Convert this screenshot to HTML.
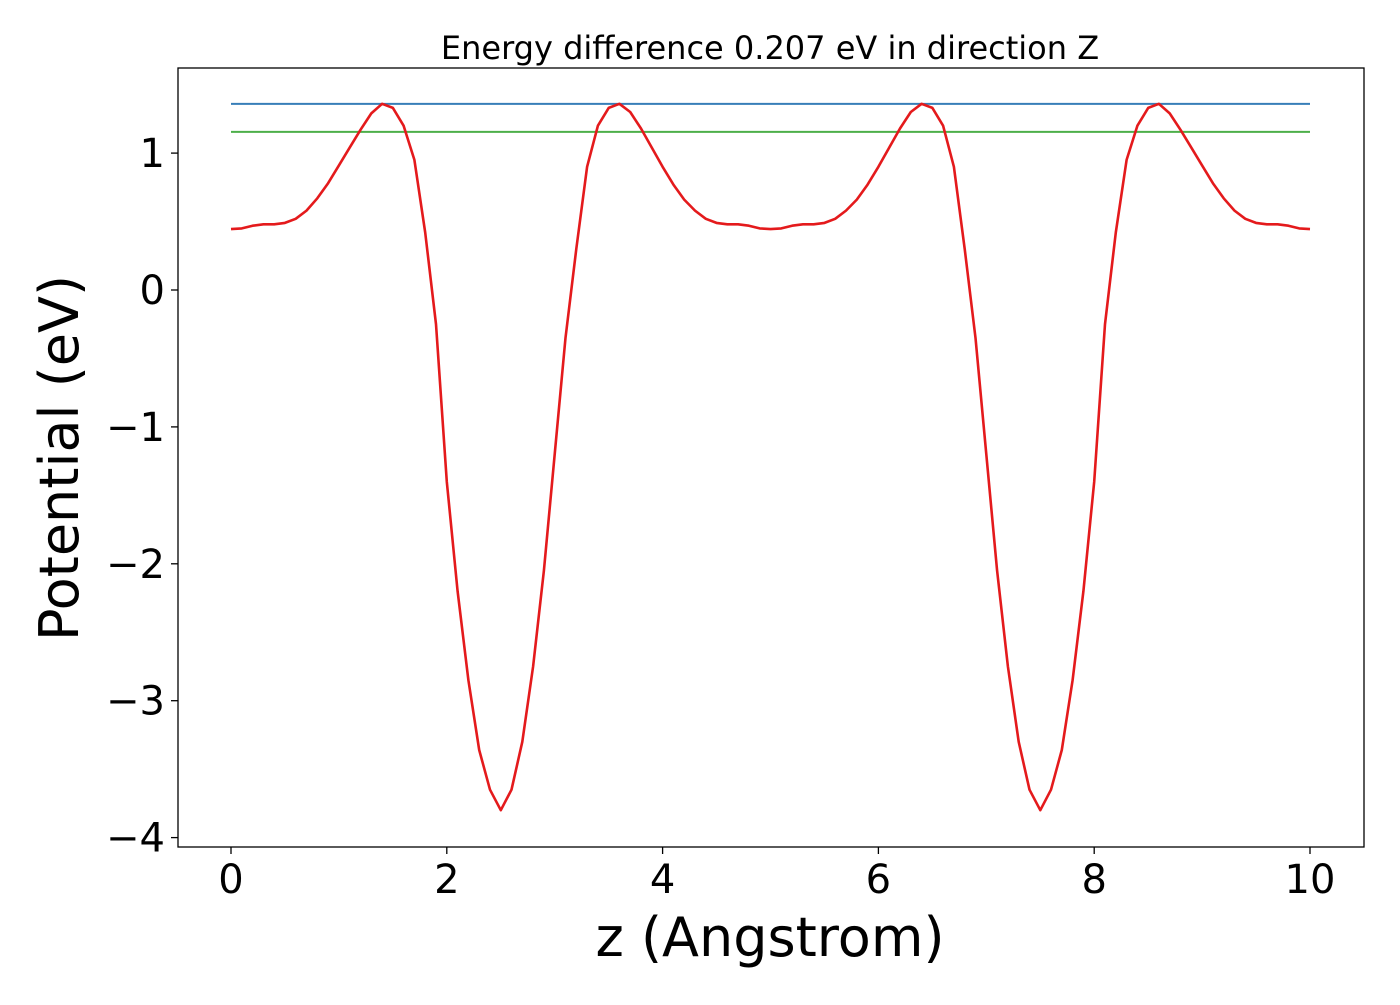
<!DOCTYPE html>
<html><head><meta charset="utf-8"><style>
body{margin:0;background:#fff;}
svg text{font-family:"DejaVu Sans","Liberation Sans",sans-serif;fill:#000;}
</style></head><body>
<svg id="chart" width="1400" height="1000" viewBox="0 0 1400 1000" xmlns="http://www.w3.org/2000/svg">
<rect width="1400" height="1000" fill="#fff"/>
<text x="770" y="59" font-size="32" text-anchor="middle">Energy difference 0.207 eV in direction Z</text>
<g id="plot"></g>
<rect x="178" y="68" width="1186" height="779" fill="none" stroke="#000" stroke-width="1.3"/>
<text x="770" y="956" font-size="54" text-anchor="middle">z (Angstrom)</text>
<text transform="translate(78,458) rotate(-90)" font-size="54" text-anchor="middle">Potential (eV)</text>
</svg>
<script>
const zValues=[0,0.1,0.2,0.3,0.4,0.5,0.6,0.7,0.8,0.9,1,1.1,1.2,1.3,1.4,1.5,1.6,1.7,1.8,1.9,2,2.1,2.2,2.3,2.4,2.5,2.6,2.7,2.8,2.9,3,3.1,3.2,3.3,3.4,3.5,3.6,3.7,3.8,3.9,4,4.1,4.2,4.3,4.4,4.5,4.6,4.7,4.8,4.9,5,5.1,5.2,5.3,5.4,5.5,5.6,5.7,5.8,5.9,6,6.1,6.2,6.3,6.4,6.5,6.6,6.7,6.8,6.9,7,7.1,7.2,7.3,7.4,7.5,7.6,7.7,7.8,7.9,8,8.1,8.2,8.3,8.4,8.5,8.6,8.7,8.8,8.9,9,9.1,9.2,9.3,9.4,9.5,9.6,9.7,9.8,9.9,10];
const potential=[0.445,0.45,0.47,0.48,0.48,0.49,0.52,0.58,0.67,0.78,0.91,1.04,1.17,1.29,1.36,1.33,1.20,0.95,0.42,-0.25,-1.40,-2.20,-2.85,-3.36,-3.65,-3.80,-3.65,-3.30,-2.75,-2.05,-1.20,-0.35,0.30,0.90,1.20,1.33,1.36,1.30,1.18,1.04,0.90,0.77,0.66,0.58,0.52,0.49,0.48,0.48,0.47,0.45,0.445,0.45,0.47,0.48,0.48,0.49,0.52,0.58,0.66,0.77,0.90,1.04,1.18,1.30,1.36,1.33,1.20,0.90,0.30,-0.35,-1.20,-2.05,-2.75,-3.30,-3.65,-3.80,-3.65,-3.36,-2.85,-2.20,-1.40,-0.25,0.42,0.95,1.20,1.33,1.36,1.29,1.17,1.04,0.91,0.78,0.67,0.58,0.52,0.49,0.48,0.48,0.47,0.45,0.445];
const maxLevel=[1.36];
const minLevel=[1.155];
const xTicks=[0,2,4,6,8,10];
const xTickLabels=["0","2","4","6","8","10"];
const yTicks=[1,0,-1,-2,-3,-4];
const yTickLabels=["1","0","\u22121","\u22122","\u22123","\u22124"];
const xs=v=>231+v*107.9;
const ys=v=>290-v*136.9;
const NS="http://www.w3.org/2000/svg";
const g=document.getElementById('plot');
function mk(t,a){const e=document.createElementNS(NS,t);for(const k in a)e.setAttribute(k,a[k]);g.appendChild(e);return e;}
xTicks.forEach((t,i)=>{
  const l=mk('line',{x1:xs(t),x2:xs(t),y1:847,y2:854,stroke:'#000','stroke-width':1.3});
  
  
  const tx=mk('text',{x:xs(t),y:893,'font-size':40,'text-anchor':'middle'});
  tx.textContent=xTickLabels[i];
  
  
});
yTicks.forEach((t,i)=>{
  const l=mk('line',{x1:171,x2:178,y1:ys(t),y2:ys(t),stroke:'#000','stroke-width':1.3});
  
  
  const tx=mk('text',{x:165,y:ys(t)+14,'font-size':40,'text-anchor':'end'});
  tx.textContent=yTickLabels[i];
  
  
});
const x0=zValues[0],x1=zValues[zValues.length-1];
const bl=mk('line',{x1:xs(x0),x2:xs(x1),y1:ys(maxLevel[0]),y2:ys(maxLevel[0]),stroke:'#377eb8','stroke-width':2});


const gl=mk('line',{x1:xs(x0),x2:xs(x1),y1:ys(minLevel[0]),y2:ys(minLevel[0]),stroke:'#4daf4a','stroke-width':2});


const d=zValues.map((z,i)=>(i?'L':'M')+xs(z).toFixed(1)+','+ys(potential[i]).toFixed(1)).join(' ');
const p=mk('path',{d:d,fill:'none',stroke:'#e41a1c','stroke-width':2.6,'stroke-linejoin':'round'});


</script>
</body></html>
